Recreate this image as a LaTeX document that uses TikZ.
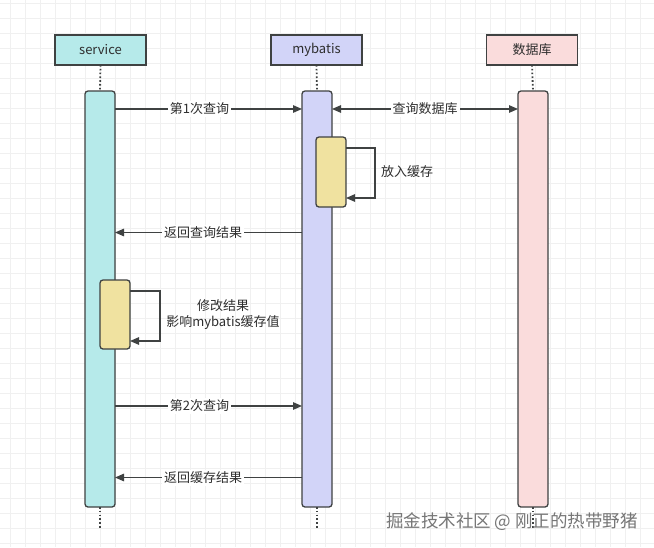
\documentclass[tikz,border=0pt]{standalone}
\usepackage{fontspec}
\setmainfont{Noto Sans CJK SC}
\usetikzlibrary{arrows.meta}
\definecolor{svcfill}{HTML}{B6EAEA}
\definecolor{mybfill}{HTML}{D2D4F8}
\definecolor{dbfill}{HTML}{FADCDC}
\definecolor{yel}{HTML}{F0E2A0}
\definecolor{strk}{HTML}{3F4242}
\definecolor{txt}{HTML}{2E2E2E}
\definecolor{gridc}{HTML}{F0F0F0}
\tikzset{
  head/.style={draw=strk, line width=1.3pt, minimum width=91pt, minimum height=30pt, inner sep=0pt, outer sep=0pt, font=\fontsize{13}{15}\selectfont, text=txt},
  bar/.style={draw=strk, line width=1.3pt, rounded corners=3pt, minimum width=30pt, minimum height=416pt, inner sep=0pt, outer sep=0pt},
  ybox/.style={draw=strk, fill=yel, line width=1.3pt, rounded corners=3pt, minimum width=30pt, inner sep=0pt, outer sep=0pt},
  life/.style={draw=strk, line width=1.8pt, dash pattern=on 1.6pt off 2.2pt},
  msg/.style={draw=strk, line width=1.2pt, -{Triangle[length=9pt,width=7.5pt]}},
  msgb/.style={draw=strk, line width=1.2pt, {Triangle[length=9pt,width=7.5pt]}-{Triangle[length=9pt,width=7.5pt]}},
  lbl/.style={fill=white, inner sep=2pt, font=\fontsize{13}{16}\selectfont, text=txt},
}
\begin{document}
\begin{tikzpicture}[x=1pt,y=-1pt]
\useasboundingbox (0,0) rectangle (654,547);
\fill[white] (0,0) rectangle (654,547);
% grid
\foreach \gx in {10,25,...,650} \draw[gridc, line width=0.8pt] (\gx,0) -- (\gx,547);
\foreach \gy in {3.3,18.3,...,547} \draw[gridc, line width=0.8pt] (0,\gy) -- (654,\gy);

% headers
\node[head, fill=svcfill] (svc) at (100.5,50) {service};
\node[head, fill=mybfill] (myb) at (316.5,50) {mybatis};
\node[head, fill=dbfill] (db) at (532,50) {数据库};

% activation bars
\node[bar, fill=svcfill] (sbar) at (100,299) {};
\node[bar, fill=mybfill] (mbar) at (317,299) {};
\node[bar, fill=dbfill] (dbar) at (533,299) {};

% lifelines
\coordinate (send) at (100,528);
\coordinate (mend) at (317,528);
\coordinate (dend) at (533,528);
\draw[life] (svc.south) -- (sbar.north);
\draw[life] (myb.south) -- (mbar.north);
\draw[life] (db.south) -- (dbar.north);
\draw[life] (sbar.south) -- (send);
\draw[life] (mbar.south) -- (mend);
\draw[life] (dbar.south) -- (dend);

% yellow boxes
\node[ybox, minimum height=70pt] (my) at (331,172) {};
\node[ybox, minimum height=69pt] (sy) at (115,314.5) {};

% messages
\draw[msg] (sbar.east |- 0,109) -- node[lbl, pos=0.452] (l1) {第1次查询} (mbar.west |- 0,109);
\draw[msgb] (mbar.east |- 0,109) -- node[lbl] (l2) {查询数据库} (dbar.west |- 0,109);
\draw[msg] (my.east |- 0,148) -- (375,148) -- (375,198) -- (my.east |- 0,198);
\node[lbl, anchor=west, fill=none] (l3) at (379,172) {放入缓存};
\draw[msg] (mbar.west |- 0,232.5) -- node[lbl, pos=0.529] (l4) {返回查询结果} (sbar.east |- 0,232.5);
\draw[msg] (sy.east |- 0,291) -- (160,291) -- (160,341) -- (sy.east |- 0,341);
\node[lbl, fill=none, align=center] (l5) at (223,314.5) {修改结果\\影响mybatis缓存值};
\draw[msg] (sbar.east |- 0,406) -- node[lbl, pos=0.452] (l6) {第2次查询} (mbar.west |- 0,406);
\draw[msg] (mbar.west |- 0,477.5) -- node[lbl, pos=0.529] (l7) {返回缓存结果} (sbar.east |- 0,477.5);

% watermark
\node[text={rgb,255:red,118;green,118;blue,118}, font=\fontsize{17.5}{20}\selectfont, inner sep=0pt] (wm) at (512,522) {掘金技术社区 @ 刚正的热带野猪};
\end{tikzpicture}
\end{document}
